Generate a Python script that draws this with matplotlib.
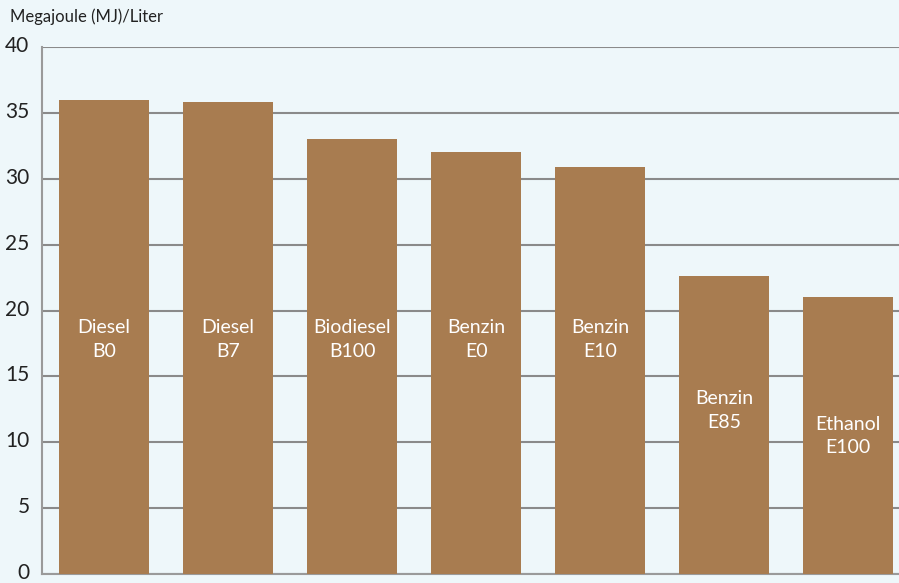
import matplotlib
matplotlib.use('Agg')
import matplotlib.pyplot as plt
import matplotlib.transforms as mtransforms

fuels = ['Diesel\nB0', 'Diesel\nB7', 'Biodiesel\nB100', 'Benzin\nE0', 'Benzin\nE10',
         'Benzin\nE85', 'Ethanol\nE100']
energy = [36.0, 35.8, 33.0, 32.0, 30.9, 22.6, 21.0]
yticks = [0, 5, 10, 15, 20, 25, 30, 35, 40]

plt.rcParams['font.family'] = ['Lato', 'DejaVu Sans']

bg = '#eef7fa'
fig = plt.figure(figsize=(8.99, 5.83), dpi=100, facecolor=bg)
ax = fig.add_axes([42 / 899, 9 / 583, 857 / 899, 527 / 583], facecolor=bg)

x = list(range(len(fuels)))
ax.bar(x, energy, width=90 / 124, color='#a87c50', zorder=3)

# label heights inside the bars (as in the original)
label_y = [17.8, 17.8, 17.8, 17.8, 17.8, 12.4, 10.5]
for xi, lab, ly in zip(x, fuels, label_y):
    ax.text(xi, ly, lab, ha='center', va='center', color='white', fontsize=14,
            linespacing=1.45, zorder=4)

ax.set_xlim(-0.5, 6.41)
ax.set_ylim(0, 40)
ax.set_yticks(yticks)
ax.set_xticks([])
ax.tick_params(axis='y', length=0, pad=9, labelsize=15, labelcolor='#222222')
# nudge tick labels up a little, like the original
shift = mtransforms.ScaledTranslation(0, 3 / 100, fig.dpi_scale_trans)
for lbl in ax.get_yticklabels():
    lbl.set_transform(lbl.get_transform() + shift)
ax.grid(True, axis='y', color='#8a8a8a', linewidth=1.5, zorder=1)
for s in ['top', 'right']:
    ax.spines[s].set_visible(False)
for s in ['left', 'bottom']:
    ax.spines[s].set_color('#9a9a9a')
    ax.spines[s].set_linewidth(1.5)

fig.text(10 / 899, 1 - 17 / 583, 'Megajoule (MJ)/Liter', ha='left', va='center',
         fontsize=12, color='#222222')

fig.savefig('out.png', dpi=100, facecolor=bg)
